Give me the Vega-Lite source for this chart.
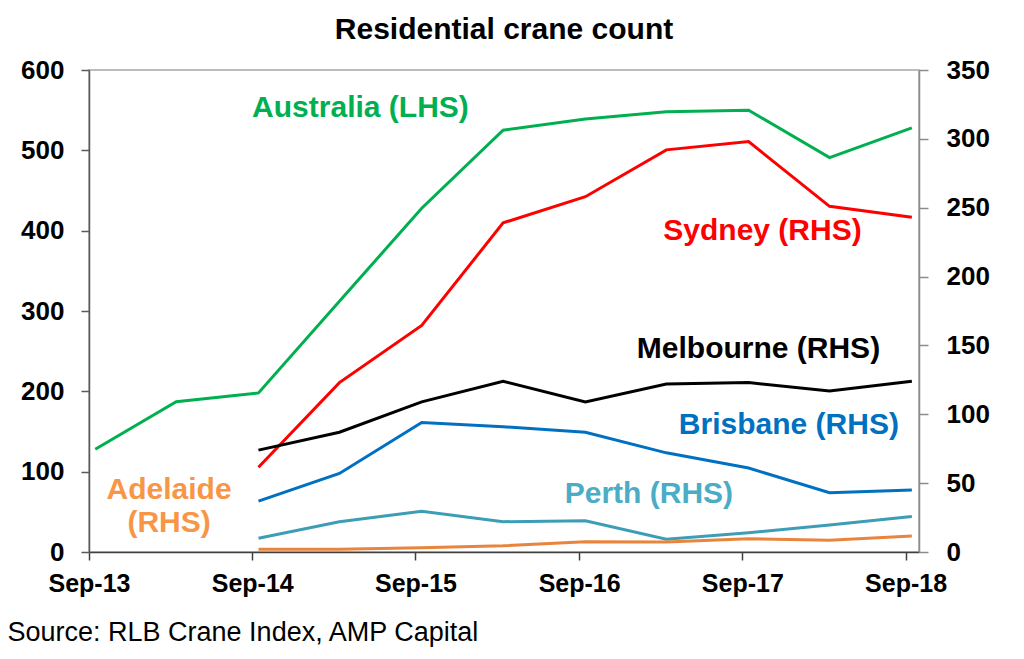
{
  "$schema": "https://vega.github.io/schema/vega-lite/v6.json",
  "width": 830,
  "height": 482,
  "autosize": "none",
  "padding": {"left": 89, "top": 70, "right": 105, "bottom": 107},
  "background": "white",
  "title": {
    "text": "Residential crane count",
    "font": "Liberation Sans",
    "fontSize": 30,
    "fontWeight": "bold",
    "color": "black",
    "offset": 12
  },
  "datasets": {
    "lines": [
      {"date": "2013-09-15", "series": "Australia", "value": 128},
      {"date": "2014-03-15", "series": "Australia", "value": 187},
      {"date": "2014-09-15", "series": "Australia", "value": 198},
      {"date": "2015-03-15", "series": "Australia", "value": 312},
      {"date": "2015-09-15", "series": "Australia", "value": 428},
      {"date": "2016-03-15", "series": "Australia", "value": 525},
      {"date": "2016-09-15", "series": "Australia", "value": 539},
      {"date": "2017-03-15", "series": "Australia", "value": 548},
      {"date": "2017-09-15", "series": "Australia", "value": 550},
      {"date": "2018-03-15", "series": "Australia", "value": 491},
      {"date": "2018-09-15", "series": "Australia", "value": 528},
      {"date": "2014-09-15", "series": "Sydney", "value": 61.5},
      {"date": "2015-03-15", "series": "Sydney", "value": 123},
      {"date": "2015-09-15", "series": "Sydney", "value": 164.5},
      {"date": "2016-03-15", "series": "Sydney", "value": 239},
      {"date": "2016-09-15", "series": "Sydney", "value": 258},
      {"date": "2017-03-15", "series": "Sydney", "value": 292},
      {"date": "2017-09-15", "series": "Sydney", "value": 298},
      {"date": "2018-03-15", "series": "Sydney", "value": 251},
      {"date": "2018-09-15", "series": "Sydney", "value": 243},
      {"date": "2014-09-15", "series": "Melbourne", "value": 74},
      {"date": "2015-03-15", "series": "Melbourne", "value": 87},
      {"date": "2015-09-15", "series": "Melbourne", "value": 109},
      {"date": "2016-03-15", "series": "Melbourne", "value": 124},
      {"date": "2016-09-15", "series": "Melbourne", "value": 109},
      {"date": "2017-03-15", "series": "Melbourne", "value": 122},
      {"date": "2017-09-15", "series": "Melbourne", "value": 123},
      {"date": "2018-03-15", "series": "Melbourne", "value": 117},
      {"date": "2018-09-15", "series": "Melbourne", "value": 124},
      {"date": "2014-09-15", "series": "Brisbane", "value": 37},
      {"date": "2015-03-15", "series": "Brisbane", "value": 57},
      {"date": "2015-09-15", "series": "Brisbane", "value": 94},
      {"date": "2016-03-15", "series": "Brisbane", "value": 91},
      {"date": "2016-09-15", "series": "Brisbane", "value": 87},
      {"date": "2017-03-15", "series": "Brisbane", "value": 72},
      {"date": "2017-09-15", "series": "Brisbane", "value": 61},
      {"date": "2018-03-15", "series": "Brisbane", "value": 43},
      {"date": "2018-09-15", "series": "Brisbane", "value": 45},
      {"date": "2014-09-15", "series": "Perth", "value": 10},
      {"date": "2015-03-15", "series": "Perth", "value": 22},
      {"date": "2015-09-15", "series": "Perth", "value": 29.5},
      {"date": "2016-03-15", "series": "Perth", "value": 22},
      {"date": "2016-09-15", "series": "Perth", "value": 22.7},
      {"date": "2017-03-15", "series": "Perth", "value": 9.3},
      {"date": "2017-09-15", "series": "Perth", "value": 14},
      {"date": "2018-03-15", "series": "Perth", "value": 19.6},
      {"date": "2018-09-15", "series": "Perth", "value": 25.7},
      {"date": "2014-09-15", "series": "Adelaide", "value": 2},
      {"date": "2015-03-15", "series": "Adelaide", "value": 2},
      {"date": "2015-09-15", "series": "Adelaide", "value": 3},
      {"date": "2016-03-15", "series": "Adelaide", "value": 4.5},
      {"date": "2016-09-15", "series": "Adelaide", "value": 7.5},
      {"date": "2017-03-15", "series": "Adelaide", "value": 7.3},
      {"date": "2017-09-15", "series": "Adelaide", "value": 9.7},
      {"date": "2018-03-15", "series": "Adelaide", "value": 8.5},
      {"date": "2018-09-15", "series": "Adelaide", "value": 11.6}
    ],
    "labels": [
      {"date": "2015-05-01", "series": "Australia", "value": 553, "label": "Australia (LHS)"},
      {"date": "2017-10-16", "series": "Sydney", "value": 233, "label": "Sydney (RHS)"},
      {"date": "2017-10-07", "series": "Melbourne", "value": 147.4, "label": "Melbourne (RHS)"},
      {"date": "2017-12-14", "series": "Brisbane", "value": 92.2, "label": "Brisbane (RHS)"},
      {"date": "2017-02-04", "series": "Perth", "value": 42.1, "label": "Perth (RHS)"},
      {"date": "2014-02-27", "series": "Adelaide", "value": 45, "label": "Adelaide\n(RHS)"}
    ]
  },
  "encoding": {
    "x": {
      "field": "date",
      "type": "temporal",
      "scale": {
        "type": "utc",
        "domain": [
          {"year": 2013, "month": "sep", "date": 1, "utc": true},
          {"year": 2018, "month": "oct", "date": 1, "utc": true}
        ]
      },
      "axis": {
        "values": [
          {"year": 2013, "month": "sep", "date": 1, "utc": true},
          {"year": 2014, "month": "sep", "date": 1, "utc": true},
          {"year": 2015, "month": "sep", "date": 1, "utc": true},
          {"year": 2016, "month": "sep", "date": 1, "utc": true},
          {"year": 2017, "month": "sep", "date": 1, "utc": true},
          {"year": 2018, "month": "sep", "date": 1, "utc": true}
        ],
        "format": "%b-%y",
        "grid": false,
        "domainColor": "#404040",
        "domainWidth": 1.5,
        "tickColor": "#404040",
        "tickWidth": 1.5,
        "tickSize": 8,
        "labelFont": "Liberation Sans",
        "labelFontSize": 25,
        "labelFontWeight": "bold",
        "labelColor": "black",
        "labelPadding": 11,
        "labelFlush": false,
        "title": "Source: RLB Crane Index, AMP Capital",
        "titleFont": "Liberation Sans",
        "titleFontSize": 27,
        "titleFontWeight": "normal",
        "titleColor": "black",
        "titleAlign": "left",
        "titleAnchor": "start",
        "titleBaseline": "middle",
        "titleX": -82,
        "titleY": 80
      }
    }
  },
  "layer": [
    {
      "encoding": {
        "y": {
          "field": "value",
          "type": "quantitative",
          "scale": {"domain": [0, 600], "nice": false},
          "axis": {
            "orient": "left",
            "title": null,
            "values": [0, 100, 200, 300, 400, 500, 600],
            "grid": false,
            "domainColor": "#595959",
            "domainWidth": 1.5,
            "tickColor": "#595959",
            "tickWidth": 1.5,
            "tickSize": 8,
            "labelFont": "Liberation Sans",
            "labelFontSize": 26,
            "labelFontWeight": "bold",
            "labelColor": "black",
            "labelPadding": 17
          }
        }
      },
      "layer": [
        {
          "data": {"name": "lines"},
          "transform": [{"filter": "datum.series === 'Australia'"}],
          "mark": {"type": "line", "color": "#00B050", "strokeWidth": 3}
        },
        {
          "data": {"name": "labels"},
          "transform": [{"filter": "datum.series === 'Australia'"}],
          "mark": {
            "type": "text",
            "color": "#00B050",
            "font": "Liberation Sans",
            "fontSize": 30,
            "fontWeight": "bold",
            "align": "center",
            "baseline": "middle"
          },
          "encoding": {"text": {"field": "label"}}
        }
      ]
    },
    {
      "encoding": {
        "y": {
          "field": "value",
          "type": "quantitative",
          "scale": {"domain": [0, 350], "nice": false},
          "axis": {
            "orient": "right",
            "title": null,
            "values": [0, 50, 100, 150, 200, 250, 300, 350],
            "grid": false,
            "domainColor": "#8c8c8c",
            "domainWidth": 1.5,
            "tickColor": "#8c8c8c",
            "tickWidth": 1.5,
            "tickSize": 9,
            "labelFont": "Liberation Sans",
            "labelFontSize": 26,
            "labelFontWeight": "bold",
            "labelColor": "black",
            "labelPadding": 18
          }
        }
      },
      "layer": [
        {
          "data": {"name": "lines"},
          "transform": [{"filter": "datum.series !== 'Australia'"}],
          "mark": {"type": "line", "strokeWidth": 3},
          "encoding": {
            "color": {
              "field": "series",
              "type": "nominal",
              "legend": null,
              "scale": {
                "domain": ["Sydney", "Melbourne", "Brisbane", "Perth", "Adelaide"],
                "range": ["#FF0000", "#000000", "#0070C0", "#3E9DB6", "#E8843C"]
              }
            }
          }
        },
        {
          "data": {"name": "labels"},
          "transform": [{"filter": "datum.series !== 'Australia'"}],
          "mark": {
            "type": "text",
            "font": "Liberation Sans",
            "fontSize": 30,
            "fontWeight": "bold",
            "align": "center",
            "baseline": "middle",
            "lineBreak": "\n",
            "lineHeight": 33
          },
          "encoding": {
            "text": {"field": "label"},
            "color": {
              "field": "series",
              "type": "nominal",
              "legend": null,
              "scale": {
                "domain": ["Sydney", "Melbourne", "Brisbane", "Perth", "Adelaide"],
                "range": ["#FF0000", "#000000", "#0070C0", "#4BACC6", "#F79646"]
              }
            }
          }
        }
      ],
      "resolve": {"scale": {"color": "independent"}}
    }
  ],
  "resolve": {"scale": {"y": "independent"}},
  "config": {
    "view": {"stroke": "#a6a6a6", "strokeWidth": 1.5}
  }
}
